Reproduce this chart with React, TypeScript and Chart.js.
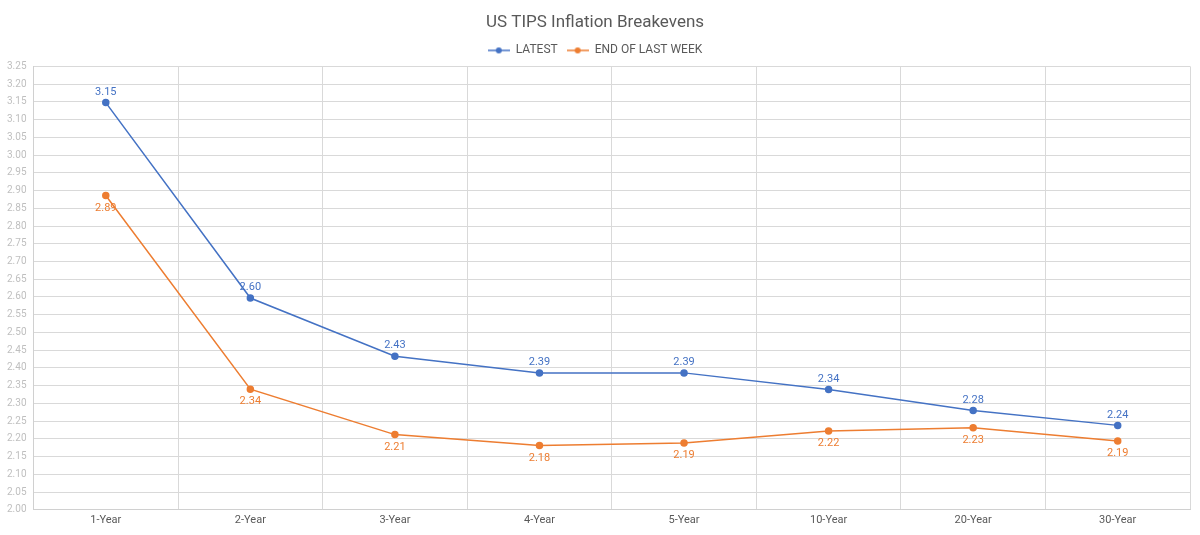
import React, { useEffect, useRef } from "react";
import { Chart, registerables } from "chart.js";

Chart.register(...registerables);

const categories = ["1-Year", "2-Year", "3-Year", "4-Year", "5-Year", "10-Year", "20-Year", "30-Year"];
const latest = [3.148, 2.597, 2.433, 2.386, 2.386, 2.339, 2.28, 2.238];
const endOfLastWeek = [2.886, 2.34, 2.212, 2.181, 2.188, 2.222, 2.231, 2.194];
const seriesNames = ["LATEST", "END OF LAST WEEK"];
const yMin = 2.0;
const yMax = 3.25;
const yStep = 0.05;

const BLUE = "#4472C4";
const ORANGE = "#ED7D31";
const FONT = "Roboto, 'Noto Sans', sans-serif";

// Small line-with-dot swatch used in the legend
function legendIcon(color: string): HTMLCanvasElement {
  const c = document.createElement("canvas");
  c.width = 22;
  c.height = 8;
  const ctx = c.getContext("2d")!;
  ctx.strokeStyle = color;
  ctx.lineWidth = 1.5;
  ctx.beginPath();
  ctx.moveTo(0, 4);
  ctx.lineTo(22, 4);
  ctx.stroke();
  ctx.fillStyle = color;
  ctx.beginPath();
  ctx.arc(11, 4, 3, 0, Math.PI * 2);
  ctx.fill();
  return c;
}

// Draws each point's value above (first series) or below (second series) the marker
const valueLabels = {
  id: "valueLabels",
  afterDatasetsDraw(chart: any) {
    const ctx = chart.ctx;
    ctx.save();
    ctx.font = `11px ${FONT}`;
    ctx.textAlign = "center";
    chart.data.datasets.forEach((ds: any, di: number) => {
      const meta = chart.getDatasetMeta(di);
      ctx.fillStyle = ds.borderColor;
      meta.data.forEach((pt: any, i: number) => {
        const v = (ds.data[i] as number).toFixed(2);
        if (di === 0) {
          ctx.textBaseline = "bottom";
          ctx.fillText(v, pt.x, pt.y - 5);
        } else {
          ctx.textBaseline = "top";
          ctx.fillText(v, pt.x, pt.y + 7);
        }
      });
    });
    ctx.restore();
  },
};

export default function App() {
  const ref = useRef<HTMLCanvasElement>(null);

  useEffect(() => {
    document.body.style.margin = "0";
    const chart = new Chart(ref.current!, {
      type: "line",
      data: {
        labels: categories,
        datasets: [
          {
            label: seriesNames[0],
            data: latest,
            borderColor: BLUE,
            backgroundColor: BLUE,
            borderWidth: 1.5,
            pointRadius: 3,
            pointStyle: "circle",
          },
          {
            label: seriesNames[1],
            data: endOfLastWeek,
            borderColor: ORANGE,
            backgroundColor: ORANGE,
            borderWidth: 1.5,
            pointRadius: 3,
            pointStyle: "circle",
          },
        ],
      },
      options: {
        animation: false,
        responsive: true,
        maintainAspectRatio: false,
        layout: { padding: { left: 0, right: 10, top: 7, bottom: 4 } },
        plugins: {
          title: {
            display: true,
            text: "US TIPS Inflation Breakevens",
            color: "#595959",
            font: { family: FONT, size: 17, weight: "normal" },
            padding: { top: 6, bottom: 2 },
          },
          legend: {
            display: true,
            labels: {
              usePointStyle: true,
              pointStyleWidth: 22,
              color: "#595959",
              font: { family: FONT, size: 12 },
              padding: 9,
              generateLabels: (chart: any) =>
                chart.data.datasets.map((ds: any, i: number) => ({
                  text: ds.label,
                  fontColor: "#595959",
                  pointStyle: legendIcon(ds.borderColor),
                  datasetIndex: i,
                  hidden: false,
                  lineWidth: 0,
                  strokeStyle: ds.borderColor,
                  fillStyle: ds.borderColor,
                })),
            },
          },
          tooltip: { enabled: false },
        },
        scales: {
          x: {
            offset: true,
            grid: { color: "#d9d9d9", offset: true, drawTicks: false },
            border: { color: "#d0d0d0" },
            ticks: { color: "#595959", font: { family: FONT, size: 11 }, padding: 4 },
          },
          y: {
            min: yMin,
            max: yMax,
            grid: { color: "#d9d9d9", drawTicks: false },
            border: { color: "#d0d0d0" },
            ticks: {
              stepSize: yStep,
              color: "#bfbfbf",
              font: { family: FONT, size: 10 },
              padding: 7,
              callback: (v: any) => Number(v).toFixed(2),
            },
          },
        },
      },
      plugins: [valueLabels],
    });
    return () => chart.destroy();
  }, []);

  return (
    <div style={{ position: "relative", width: 1200, height: 535 }}>
      <canvas ref={ref} />
    </div>
  );
}
